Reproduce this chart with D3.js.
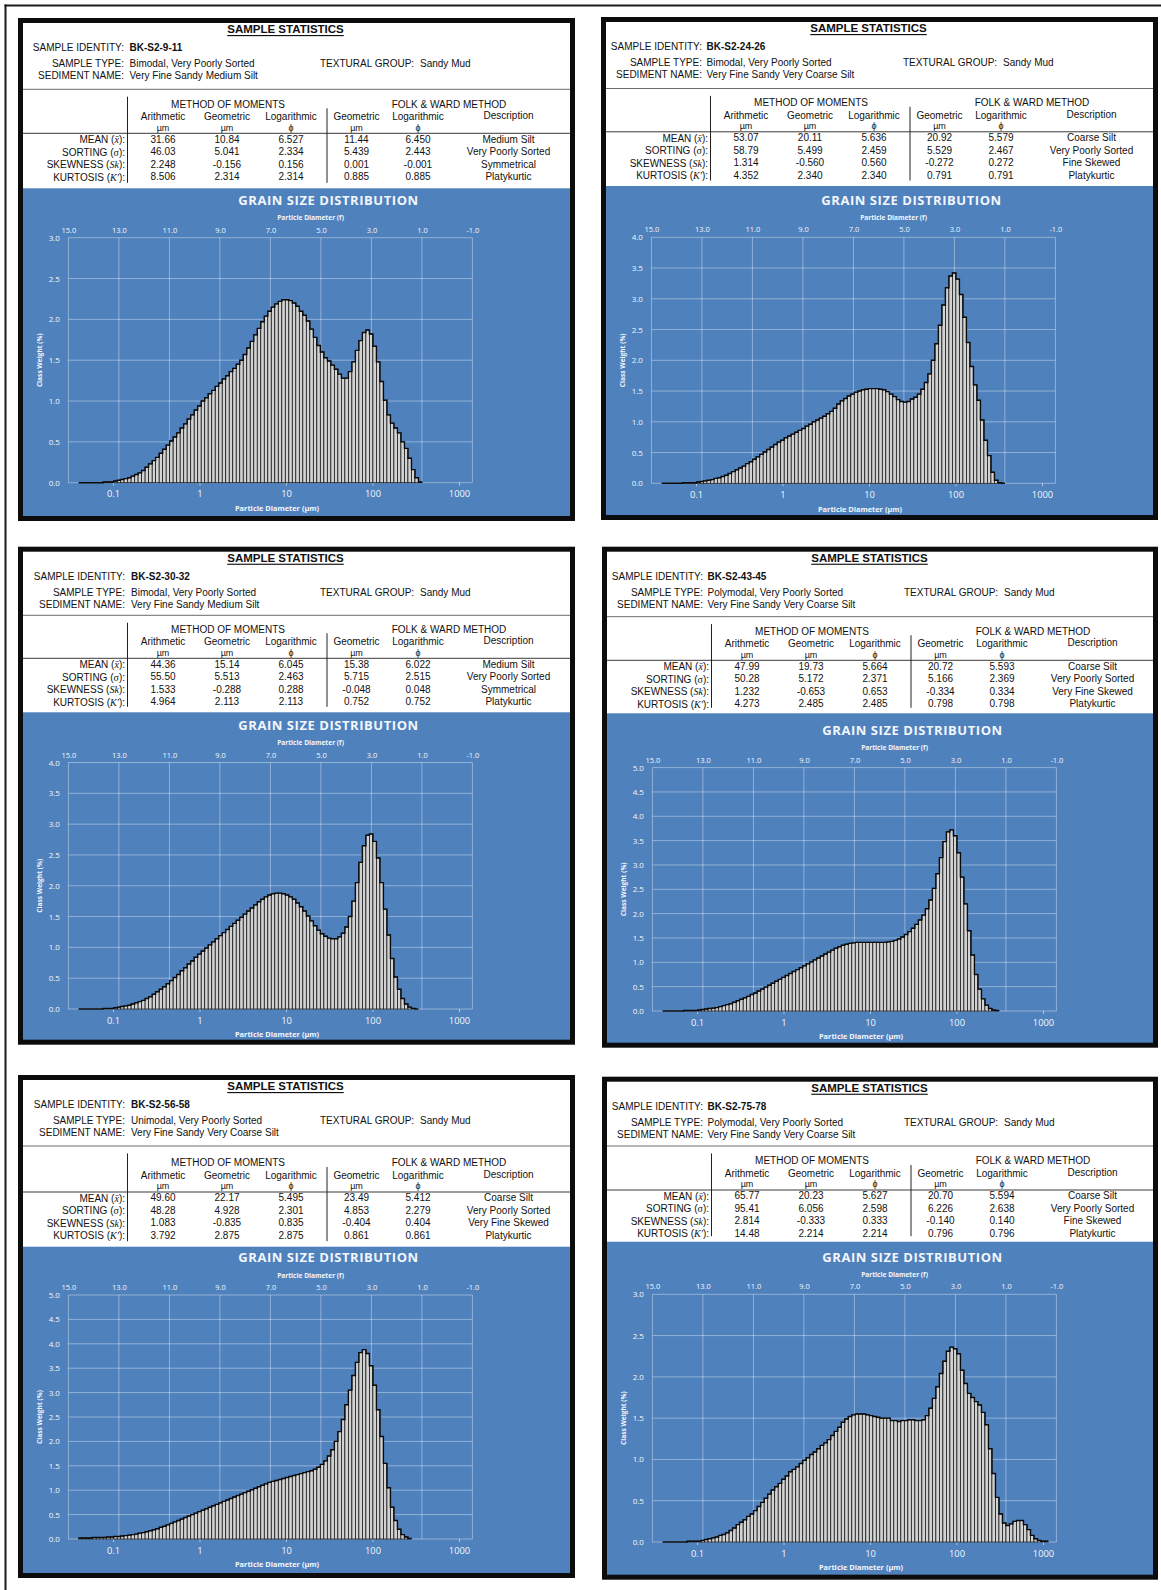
<!DOCTYPE html>
<html>
<head>
<meta charset="utf-8">
<script src="https://cdn.jsdelivr.net/npm/d3@7"></script>
<style>
  html, body { margin: 0; padding: 0; background: #ffffff; }
  svg { display: block; }
</style>
</head>
<body>
<svg id="sheet" width="1161" height="1590"></svg>
<script>
// Laser diffraction channel boundaries (µm), LS 13 320 with PIDS
const channelEdges = [
  0.040, 0.044, 0.048, 0.053, 0.058, 0.064, 0.070, 0.077, 0.084, 0.093,
  0.102, 0.112, 0.122, 0.134, 0.148, 0.162, 0.178, 0.195, 0.214, 0.235,
  0.258, 0.284, 0.311, 0.342, 0.375, 0.412, 0.452, 0.496, 0.545, 0.598,
  0.657, 0.721, 0.791, 0.869, 0.953, 1.047, 1.149, 1.261, 1.385, 1.520,
  1.669, 1.832, 2.011, 2.208, 2.423, 2.660, 2.920, 3.206, 3.519, 3.863,
  4.241, 4.656, 5.111, 5.611, 6.159, 6.761, 7.422, 8.148, 8.944, 9.819,
  10.78, 11.83, 12.99, 14.26, 15.65, 17.18, 18.86, 20.71, 22.73, 24.95,
  27.39, 30.07, 33.01, 36.24, 39.78, 43.67, 47.94, 52.62, 57.77, 63.41,
  69.61, 76.42, 83.89, 92.09, 101.1, 111.0, 121.8, 133.7, 146.8, 161.2,
  176.8, 194.2, 213.2, 234.1, 256.9, 282.1, 309.6, 339.9, 373.1, 409.6,
  449.7, 493.6, 541.9, 594.9, 653.0, 716.9, 786.9, 863.9, 948.3, 1041,
  1143, 1255, 1377, 1512, 1660, 1822, 2000
];

// Sample headers
const sampleIds = ["BK-S2-9-11", "BK-S2-24-26", "BK-S2-30-32", "BK-S2-43-45", "BK-S2-56-58", "BK-S2-75-78"];
const sampleTypes = [
  "Bimodal, Very Poorly Sorted", "Bimodal, Very Poorly Sorted", "Bimodal, Very Poorly Sorted",
  "Polymodal, Very Poorly Sorted", "Unimodal, Very Poorly Sorted", "Polymodal, Very Poorly Sorted"
];
const texturalGroups = ["Sandy Mud", "Sandy Mud", "Sandy Mud", "Sandy Mud", "Sandy Mud", "Sandy Mud"];
const sedimentNames = [
  "Very Fine Sandy Medium Silt", "Very Fine Sandy Very Coarse Silt", "Very Fine Sandy Medium Silt",
  "Very Fine Sandy Very Coarse Silt", "Very Fine Sandy Very Coarse Silt", "Very Fine Sandy Very Coarse Silt"
];

// Statistics per sample: [mean, sorting, skewness, kurtosis]
const momArithmetic = [
  ["31.66", "46.03", "2.248", "8.506"], ["53.07", "58.79", "1.314", "4.352"], ["44.36", "55.50", "1.533", "4.964"],
  ["47.99", "50.28", "1.232", "4.273"], ["49.60", "48.28", "1.083", "3.792"], ["65.77", "95.41", "2.814", "14.48"]
];
const momGeometric = [
  ["10.84", "5.041", "-0.156", "2.314"], ["20.11", "5.499", "-0.560", "2.340"], ["15.14", "5.513", "-0.288", "2.113"],
  ["19.73", "5.172", "-0.653", "2.485"], ["22.17", "4.928", "-0.835", "2.875"], ["20.23", "6.056", "-0.333", "2.214"]
];
const momLogarithmic = [
  ["6.527", "2.334", "0.156", "2.314"], ["5.636", "2.459", "0.560", "2.340"], ["6.045", "2.463", "0.288", "2.113"],
  ["5.664", "2.371", "0.653", "2.485"], ["5.495", "2.301", "0.835", "2.875"], ["5.627", "2.598", "0.333", "2.214"]
];
const fwGeometric = [
  ["11.44", "5.439", "0.001", "0.885"], ["20.92", "5.529", "-0.272", "0.791"], ["15.38", "5.715", "-0.048", "0.752"],
  ["20.72", "5.166", "-0.334", "0.798"], ["23.49", "4.853", "-0.404", "0.861"], ["20.70", "6.226", "-0.140", "0.796"]
];
const fwLogarithmic = [
  ["6.450", "2.443", "-0.001", "0.885"], ["5.579", "2.467", "0.272", "0.791"], ["6.022", "2.515", "0.048", "0.752"],
  ["5.593", "2.369", "0.334", "0.798"], ["5.412", "2.279", "0.404", "0.861"], ["5.594", "2.638", "0.140", "0.796"]
];
const fwDescription = [
  ["Medium Silt", "Very Poorly Sorted", "Symmetrical", "Platykurtic"],
  ["Coarse Silt", "Very Poorly Sorted", "Fine Skewed", "Platykurtic"],
  ["Medium Silt", "Very Poorly Sorted", "Symmetrical", "Platykurtic"],
  ["Coarse Silt", "Very Poorly Sorted", "Very Fine Skewed", "Platykurtic"],
  ["Coarse Silt", "Very Poorly Sorted", "Very Fine Skewed", "Platykurtic"],
  ["Coarse Silt", "Very Poorly Sorted", "Fine Skewed", "Platykurtic"]
];

// Class weight (%) per channel, starting at the first channel edge
const weights_9_11 = [
  0.00, 0.00, 0.00, 0.00, 0.00, 0.00, 0.00, 0.01, 0.01, 0.01,
  0.02, 0.03, 0.04, 0.05, 0.06, 0.08, 0.10, 0.12, 0.15, 0.19,
  0.23, 0.27, 0.31, 0.36, 0.41, 0.46, 0.51, 0.56, 0.61, 0.67,
  0.72, 0.78, 0.83, 0.89, 0.94, 1.00, 1.04, 1.09, 1.13, 1.18,
  1.22, 1.27, 1.31, 1.36, 1.40, 1.45, 1.50, 1.57, 1.65, 1.73,
  1.81, 1.89, 1.97, 2.04, 2.10, 2.15, 2.19, 2.22, 2.24, 2.24,
  2.23, 2.20, 2.16, 2.10, 2.05, 1.98, 1.88, 1.78, 1.68, 1.60,
  1.53, 1.49, 1.44, 1.39, 1.33, 1.28, 1.28, 1.36, 1.48, 1.62,
  1.74, 1.84, 1.87, 1.82, 1.67, 1.48, 1.24, 1.01, 0.83, 0.73,
  0.67, 0.61, 0.50, 0.42, 0.30, 0.16, 0.06, 0.01
];
const weights_24_26 = [
  0.00, 0.00, 0.00, 0.00, 0.00, 0.00, 0.01, 0.01, 0.01, 0.01,
  0.02, 0.03, 0.04, 0.05, 0.06, 0.08, 0.09, 0.11, 0.13, 0.16,
  0.19, 0.22, 0.25, 0.28, 0.32, 0.35, 0.39, 0.43, 0.47, 0.51,
  0.55, 0.59, 0.63, 0.67, 0.70, 0.74, 0.77, 0.80, 0.83, 0.86,
  0.89, 0.93, 0.96, 1.00, 1.03, 1.06, 1.09, 1.13, 1.17, 1.22,
  1.29, 1.34, 1.38, 1.42, 1.45, 1.48, 1.50, 1.52, 1.53, 1.54,
  1.54, 1.54, 1.53, 1.52, 1.49, 1.45, 1.41, 1.36, 1.33, 1.32,
  1.33, 1.37, 1.40, 1.45, 1.53, 1.64, 1.78, 2.00, 2.27, 2.57,
  2.90, 3.18, 3.37, 3.42, 3.32, 3.07, 2.70, 2.29, 1.90, 1.60,
  1.35, 1.03, 0.70, 0.45, 0.18, 0.05, 0.01, 0.00
];
const weights_30_32 = [
  0.00, 0.00, 0.00, 0.00, 0.00, 0.00, 0.00, 0.01, 0.01, 0.01,
  0.02, 0.03, 0.04, 0.05, 0.06, 0.08, 0.10, 0.12, 0.14, 0.17,
  0.20, 0.24, 0.28, 0.32, 0.36, 0.41, 0.46, 0.51, 0.56, 0.62,
  0.67, 0.73, 0.78, 0.84, 0.89, 0.94, 0.99, 1.04, 1.09, 1.14,
  1.19, 1.24, 1.29, 1.34, 1.39, 1.44, 1.49, 1.54, 1.59, 1.64,
  1.69, 1.74, 1.78, 1.82, 1.85, 1.87, 1.88, 1.88, 1.87, 1.85,
  1.82, 1.78, 1.72, 1.66, 1.59, 1.51, 1.43, 1.35, 1.28, 1.22,
  1.18, 1.15, 1.14, 1.14, 1.17, 1.23, 1.33, 1.50, 1.75, 2.05,
  2.38, 2.65, 2.82, 2.84, 2.72, 2.45, 2.05, 1.62, 1.20, 0.82,
  0.52, 0.32, 0.17, 0.08, 0.03, 0.01, 0.00
];
const weights_43_45 = [
  0.00, 0.00, 0.00, 0.00, 0.00, 0.00, 0.01, 0.01, 0.01, 0.01,
  0.02, 0.03, 0.04, 0.05, 0.06, 0.07, 0.09, 0.11, 0.13, 0.15,
  0.18, 0.21, 0.24, 0.27, 0.30, 0.34, 0.37, 0.41, 0.45, 0.49,
  0.53, 0.57, 0.61, 0.65, 0.69, 0.73, 0.77, 0.81, 0.85, 0.89,
  0.93, 0.97, 1.01, 1.05, 1.09, 1.13, 1.17, 1.21, 1.25, 1.29,
  1.32, 1.35, 1.37, 1.39, 1.40, 1.41, 1.41, 1.41, 1.41, 1.41,
  1.41, 1.41, 1.41, 1.41, 1.42, 1.43, 1.45, 1.48, 1.52, 1.57,
  1.63, 1.70, 1.78, 1.87, 1.97, 2.10, 2.28, 2.52, 2.82, 3.15,
  3.48, 3.68, 3.72, 3.60, 3.25, 2.75, 2.20, 1.65, 1.15, 0.75,
  0.45, 0.25, 0.12, 0.05, 0.02, 0.01
];
const weights_56_58 = [
  0.02, 0.02, 0.02, 0.02, 0.03, 0.03, 0.03, 0.03, 0.04, 0.04,
  0.05, 0.05, 0.06, 0.07, 0.08, 0.09, 0.10, 0.12, 0.13, 0.15,
  0.17, 0.19, 0.21, 0.24, 0.26, 0.29, 0.32, 0.35, 0.38, 0.41,
  0.44, 0.47, 0.50, 0.53, 0.56, 0.59, 0.62, 0.65, 0.68, 0.71,
  0.74, 0.77, 0.80, 0.83, 0.86, 0.89, 0.92, 0.95, 0.98, 1.01,
  1.04, 1.07, 1.10, 1.13, 1.16, 1.18, 1.20, 1.22, 1.24, 1.26,
  1.28, 1.30, 1.32, 1.34, 1.36, 1.38, 1.40, 1.43, 1.47, 1.53,
  1.60, 1.70, 1.83, 2.00, 2.20, 2.45, 2.75, 3.05, 3.35, 3.62,
  3.82, 3.88, 3.80, 3.55, 3.15, 2.65, 2.10, 1.55, 1.05, 0.65,
  0.38, 0.20, 0.09, 0.04, 0.01
];
const weights_75_78 = [
  0.00, 0.00, 0.00, 0.00, 0.00, 0.00, 0.00, 0.01, 0.01, 0.01,
  0.01, 0.02, 0.03, 0.04, 0.05, 0.06, 0.08, 0.09, 0.11, 0.14,
  0.17, 0.21, 0.24, 0.27, 0.31, 0.34, 0.38, 0.43, 0.48, 0.53,
  0.58, 0.63, 0.67, 0.71, 0.76, 0.80, 0.85, 0.88, 0.91, 0.95,
  0.99, 1.02, 1.06, 1.09, 1.13, 1.17, 1.20, 1.24, 1.29, 1.34,
  1.39, 1.45, 1.49, 1.52, 1.54, 1.55, 1.55, 1.55, 1.54, 1.53,
  1.52, 1.51, 1.50, 1.50, 1.50, 1.47, 1.47, 1.46, 1.47, 1.47,
  1.48, 1.48, 1.47, 1.47, 1.48, 1.53, 1.62, 1.74, 1.88, 2.04,
  2.19, 2.31, 2.36, 2.34, 2.28, 2.08, 1.92, 1.80, 1.75, 1.70,
  1.66, 1.57, 1.42, 1.13, 0.83, 0.54, 0.34, 0.23, 0.20, 0.22,
  0.25, 0.26, 0.26, 0.21, 0.15, 0.08, 0.04, 0.02, 0.01, 0.01
];
const classWeights = [weights_9_11, weights_24_26, weights_30_32, weights_43_45, weights_56_58, weights_75_78];
const classWeightMax = [3.0, 4.0, 4.0, 5.0, 5.0, 3.0];

// Axis tick values
const phiTicks = [15, 13, 11, 9, 7, 5, 3, 1, -1];
const micronTicks = [0.1, 1, 10, 100, 1000];
const micronDomain = [0.0305, 1429];

// Statistic row labels
const statLabels = [
  ["MEAN (", "x\u0304", "):"],
  ["SORTING (", "\u03c3", "):"],
  ["SKEWNESS (", "Sk", "):"],
  ["KURTOSIS (", "K\u2032", "):"]
];

// Panel placement on the sheet
const panelLayout = [
  { x: 18,  y: 18,    w: 557, h: 503, lab: 106, val: 111.5, div: 89.3,   mean: 139,    blue: 188.3,  plotTop: 237.7,  plotBottom: 482.7 },
  { x: 601, y: 17,    w: 557, h: 503, lab: 101, val: 105.5, div: 88.5,   mean: 137.5,  blue: 186,    plotTop: 237.3,  plotBottom: 483.3 },
  { x: 18,  y: 546.7, w: 557, h: 498, lab: 107, val: 113,   div: 615.3,  mean: 664,    blue: 712.3,  plotTop: 762.5,  plotBottom: 1009 },
  { x: 602, y: 546.7, w: 556, h: 501, lab: 101, val: 105.5, div: 616.7,  mean: 666,    blue: 713.3,  plotTop: 767.6,  plotBottom: 1011 },
  { x: 18,  y: 1075,  w: 557, h: 503, lab: 107, val: 113,   div: 1146,   mean: 1197.7, blue: 1246.7, plotTop: 1295,   plotBottom: 1539 },
  { x: 602, y: 1076.7,w: 556, h: 503, lab: 101, val: 105.5, div: 1146,   mean: 1195.7, blue: 1241.7, plotTop: 1294.3, plotBottom: 1542 }
];

const TABLE_FONT = "'Liberation Sans', Arial, Helvetica, sans-serif";
const SERIF_FONT = "'Liberation Serif', 'Times New Roman', serif";
const CHART_FONT = "'Open Sans', 'Noto Sans', sans-serif";
const CHART_BLUE = "#4f81bd";
const GRID = "rgba(255,255,255,0.38)";
const LABEL = "#f3f6fb";

const svg = d3.select("#sheet");

// Sheet border
svg.append("line").attr("x1", 4.5).attr("x2", 1161).attr("y1", 5.5).attr("y2", 5.5)
  .attr("stroke", "#1a1a1a").attr("stroke-width", 2);
svg.append("line").attr("x1", 5.5).attr("x2", 5.5).attr("y1", 4.5).attr("y2", 1590)
  .attr("stroke", "#1a1a1a").attr("stroke-width", 2);

function drawPanel(i) {
  const L = panelLayout[i];
  const x0 = L.x, y0 = L.y, x1 = L.x + L.w, y1 = L.y + L.h;
  const g = svg.append("g").attr("class", "panel");

  g.append("rect").attr("x", x0).attr("y", y0).attr("width", L.w).attr("height", L.h).attr("fill", "#ffffff");
  g.append("rect").attr("x", x0 + 4).attr("y", L.blue).attr("width", L.w - 8).attr("height", y1 - 4 - L.blue)
    .attr("fill", CHART_BLUE);

  const text = (x, y, s, anchor, weight, size) => g.append("text")
    .attr("x", x).attr("y", y)
    .attr("text-anchor", anchor || "start")
    .attr("dominant-baseline", "central")
    .attr("font-family", TABLE_FONT)
    .attr("font-size", size || 10)
    .attr("font-weight", weight || 400)
    .attr("fill", "#111")
    .text(s);

  // Header block
  text(x0 + 267.5, y0 + 11, "SAMPLE STATISTICS", "middle", 700, 11.5).attr("text-decoration", "underline");
  const r1 = y0 + 29.5, r2 = y0 + 45.3, r3 = y0 + 57.8;
  text(x0 + L.lab, r1, "SAMPLE IDENTITY:", "end");
  text(x0 + L.val, r1, sampleIds[i], "start", 700);
  text(x0 + L.lab, r2, "SAMPLE TYPE:", "end");
  text(x0 + L.val, r2, sampleTypes[i], "start");
  text(x0 + 302, r2, "TEXTURAL GROUP:", "start");
  text(x0 + 402, r2, texturalGroups[i], "start");
  text(x0 + L.lab, r3, "SEDIMENT NAME:", "end");
  text(x0 + L.val, r3, sedimentNames[i], "start");

  // Table rules
  g.append("line").attr("x1", x0 + 4).attr("x2", x1 - 4).attr("y1", L.div).attr("y2", L.div)
    .attr("stroke", "#6b6b6b").attr("stroke-width", 1);
  const uline = L.mean - 5.7;
  g.append("line").attr("x1", x0 + 4).attr("x2", x1 - 4).attr("y1", uline).attr("y2", uline)
    .attr("stroke", "#3a3a3a").attr("stroke-width", 1);
  g.append("line").attr("x1", x0 + 109.5).attr("x2", x0 + 109.5).attr("y1", L.div + 7.4).attr("y2", L.blue - 5.5)
    .attr("stroke", "#222").attr("stroke-width", 1);
  g.append("line").attr("x1", x0 + 309).attr("x2", x0 + 309).attr("y1", L.mean - 30.7).attr("y2", L.blue - 5.5)
    .attr("stroke", "#222").attr("stroke-width", 1);

  const cols = [145, 209, 273, 338.5, 400, 490.5];
  text(x0 + 210, L.mean - 35, "METHOD OF MOMENTS", "middle");
  text(x0 + 431, L.mean - 35, "FOLK & WARD METHOD", "middle");
  const heads = ["Arithmetic", "Geometric", "Logarithmic", "Geometric", "Logarithmic"];
  heads.forEach((h, k) => text(x0 + cols[k], L.mean - 22.3, h, "middle"));
  text(x0 + cols[5], L.mean - 23.5, "Description", "middle");
  const units = ["\u00b5m", "\u00b5m", "\u03d5", "\u00b5m", "\u03d5"];
  units.forEach((u, k) => text(x0 + cols[k], L.mean - 11.3, u, "middle", 400, 9));

  const columns = [momArithmetic[i], momGeometric[i], momLogarithmic[i], fwGeometric[i], fwLogarithmic[i], fwDescription[i]];
  statLabels.forEach((lab, r) => {
    const yy = L.mean + r * 12.5;
    const t = g.append("text").attr("x", x0 + 107).attr("y", yy)
      .attr("text-anchor", "end").attr("dominant-baseline", "central")
      .attr("font-family", TABLE_FONT).attr("font-size", 10).attr("fill", "#111");
    t.append("tspan").text(lab[0]);
    t.append("tspan").attr("font-family", SERIF_FONT).attr("font-style", r === 1 ? "normal" : "italic").text(lab[1]);
    t.append("tspan").text(lab[2]);
    columns.forEach((col, k) => text(x0 + cols[k], yy, col[r], "middle"));
  });

  // Grain size distribution chart
  const pl = x0 + 50.4, pr = pl + 404;
  const yMax = classWeightMax[i];
  const xMicron = d3.scaleLog().domain(micronDomain).range([pl, pr]);
  const xPhi = d3.scaleLinear().domain([15, -1]).range([pl, pr]);
  const y = d3.scaleLinear().domain([0, yMax]).range([L.plotBottom, L.plotTop]);
  const yTicks = y.ticks(Math.round(yMax * 2));

  const chartText = (x, y, s, size, weight) => g.append("text")
    .attr("x", x).attr("y", y).attr("text-anchor", "middle").attr("dominant-baseline", "central")
    .attr("font-family", CHART_FONT).attr("font-size", size).attr("font-weight", weight || 400)
    .attr("fill", LABEL).text(s);

  chartText(x0 + 310.5, L.plotTop - 37.7, "GRAIN SIZE DISTRIBUTION", 13, 700).attr("letter-spacing", 0.55);
  chartText(x0 + 292.5, L.plotTop - 20, "Particle Diameter (f)", 6.6, 700);
  chartText(x0 + 259, L.plotBottom + 25.3, "Particle Diameter (\u00b5m)", 7.4, 700);
  chartText(0, 0, "Class Weight (%)", 6.6, 700)
    .attr("transform", `translate(${x0 + 21},${(L.plotTop + L.plotBottom) / 2}) rotate(-90)`);

  // Gridlines
  g.append("g").selectAll("line").data(yTicks).join("line")
    .attr("x1", pl).attr("x2", pr).attr("y1", d => y(d)).attr("y2", d => y(d))
    .attr("stroke", GRID).attr("stroke-width", 1);
  g.append("g").selectAll("line").data(phiTicks).join("line")
    .attr("x1", d => xPhi(d)).attr("x2", d => xPhi(d)).attr("y1", L.plotTop).attr("y2", L.plotBottom)
    .attr("stroke", GRID).attr("stroke-width", 1);

  // Axes
  const styleAxis = (sel, size) => {
    sel.select(".domain").remove();
    sel.selectAll("text").attr("fill", LABEL).attr("font-family", CHART_FONT).attr("font-size", size);
    sel.selectAll("line").attr("stroke", "rgba(255,255,255,0.55)");
  };
  g.append("g").attr("transform", `translate(0,${L.plotTop - 5})`)
    .call(d3.axisTop(xPhi).tickValues(phiTicks).tickFormat(d => d.toFixed(1)).tickSize(0).tickPadding(0))
    .call(s => styleAxis(s, 7.5));
  g.append("g").attr("transform", `translate(0,${L.plotBottom})`)
    .call(d3.axisBottom(xMicron).tickValues(micronTicks).tickFormat(d => String(d)).tickSize(3).tickPadding(5))
    .call(s => styleAxis(s, 9.3));
  g.append("g").attr("transform", `translate(${pl},0)`)
    .call(d3.axisLeft(y).tickValues(yTicks).tickFormat(d => d.toFixed(1)).tickSize(0).tickPadding(8.5))
    .call(s => styleAxis(s, 8));

  // Histogram bars
  const bins = classWeights[i].map((v, k) => ({ lo: channelEdges[k], hi: channelEdges[k + 1], v }));
  g.append("g").selectAll("rect").data(bins).join("rect")
    .attr("x", d => xMicron(d.lo))
    .attr("width", d => xMicron(d.hi) - xMicron(d.lo))
    .attr("y", d => y(d.v))
    .attr("height", d => L.plotBottom - y(d.v))
    .attr("fill", "#d2d2d2")
    .attr("stroke", "#161616")
    .attr("stroke-width", 0.75);

  // Outline along the bar tops
  const pts = bins.map(d => [xMicron(d.lo), y(d.v)]);
  const last = bins[bins.length - 1];
  pts.push([xMicron(last.hi), y(last.v)]);
  const outline = d3.line().curve(d3.curveStepAfter);
  g.append("path").attr("d", outline(pts)).attr("fill", "none")
    .attr("stroke", "#0a0a0a").attr("stroke-width", 1.4);
  g.append("line").attr("x1", xMicron(last.hi)).attr("x2", xMicron(last.hi))
    .attr("y1", y(last.v)).attr("y2", L.plotBottom).attr("stroke", "#0a0a0a").attr("stroke-width", 1.2);

  // Panel frame
  g.append("rect").attr("x", x0 + 2.5).attr("y", y0 + 2.5).attr("width", L.w - 5).attr("height", L.h - 5)
    .attr("fill", "none").attr("stroke", "#0c0c0c").attr("stroke-width", 5);
}

d3.range(panelLayout.length).forEach(drawPanel);
</script>
</body>
</html>
